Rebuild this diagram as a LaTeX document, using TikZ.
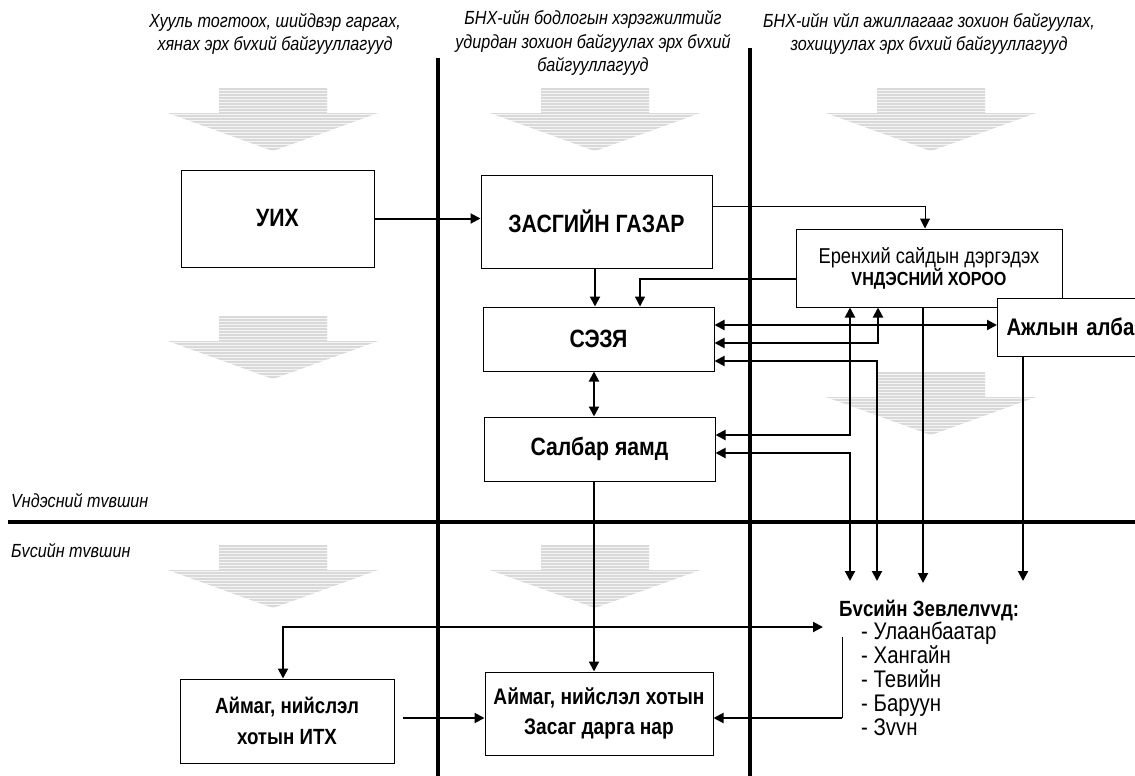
\documentclass[tikz,border=0pt]{standalone}
\usepackage{fontspec}
\setmainfont{Liberation Sans}[FakeStretch=0.85]
\usetikzlibrary{arrows.meta,calc}
\newcommand\stripearrow[2]{%
  \begin{scope}
    \clip (#1-54,#2) -- (#1+54,#2) -- (#1+54,#2+25) -- (#1+105,#2+25) -- (#1,#2+63) -- (#1-105,#2+25) -- (#1-54,#2+25) -- cycle;
    \fill[gray!8] (#1-110,#2-2) rectangle (#1+110,#2+66);
    \foreach \k in {0,...,21} \draw[gray!30, line width=1.2pt] (#1-110,#2+\k*3+1) -- (#1+110,#2+\k*3+1);
  \end{scope}}
\begin{document}
\begin{tikzpicture}[x=1pt,y=-1pt,
  >={Triangle[length=10pt,width=10pt]},
  box/.style={draw,line width=1pt,fill=white,inner sep=0pt,align=center},
  btxt/.style={font=\fontsize{25}{29}\selectfont\bfseries},
  hdr/.style={font=\fontsize{19}{23.5}\selectfont\itshape,align=center,inner sep=0pt},
  lvl/.style={font=\fontsize{19}{22}\selectfont\itshape,anchor=west,inner sep=0pt},
  conn/.style={line width=2pt,->},
  biconn/.style={line width=2pt,<->},
  thinconn/.style={line width=1pt,->},
  divider/.style={line width=4pt}]
\useasboundingbox (0,0) rectangle (1135,776);
\clip (0,0) rectangle (1135,776);
\fill[white] (0,0) rectangle (1135,776);

% striped background arrows
\stripearrow{273}{88}
\stripearrow{595}{88}
\stripearrow{931}{88}
\stripearrow{273}{316}
\stripearrow{931}{372}
\stripearrow{273}{545}
\stripearrow{595}{545}

% dividers
\draw[divider] (438,58) -- (438,790);
\draw[divider] (750,48) -- (750,790);
\draw[divider] (8,522) -- (1150,522);

% headers
\node[hdr] (hL) at (275,34) {Хууль тогтоох, шийдвэр гаргах,\\хянах эрх бvхий байгууллагууд};
\node[hdr] (hM) at (593,43) {БНХ-ийн бодлогын хэрэгжилтийг\\удирдан зохион байгуулах эрх бvхий\\байгууллагууд};
\node[hdr] (hR) at (929,34) {БНХ-ийн vйл ажиллагааг зохион байгуулах,\\зохицуулах эрх бvхий байгууллагууд};

% level labels
\node[lvl] (lvN) at (11,501) {Vндэсний тvвшин};
\node[lvl] (lvB) at (11,551) {Бvсийн тvвшин};

% boxes
\node[box,btxt,minimum width=193pt,minimum height=97pt] (uih) at (277.5,218.5) {УИХ};
\node[box,btxt,minimum width=231pt,minimum height=93pt] (zg) at (596.5,221.5) {ЗАСГИЙН ГАЗАР};
\node[box,btxt,minimum width=231pt,minimum height=64pt] (sezya) at (598.5,339) {СЭЗЯ};
\node[box,btxt,minimum width=231pt,minimum height=64pt] (salbar) at (599.5,449) {Салбар яамд};
\node[box,minimum width=266pt,minimum height=78pt,font=\fontsize{21.5}{22}\selectfont] (eronhii) at (929,268) {Еренхий сайдын дэргэдэх\\\fontsize{19}{22}\selectfont\textbf{VНДЭСНИЙ ХОРОО}};
\node[box,anchor=west,minimum height=58pt,text width=163pt,align=left,inner xsep=9pt,font=\fontsize{24}{28}\selectfont\bfseries] (ajlyn) at (997,327) {Ажлын алба};
\node[box,minimum width=214pt,minimum height=84pt,font=\fontsize{22}{31}\selectfont\bfseries] (ith) at (287,721) {Аймаг, нийслэл\\хотын ИТХ};
\node[box,minimum width=228pt,minimum height=83pt,font=\fontsize{22.5}{30}\selectfont\bfseries] (zasag) at (599,713.5) {Аймаг, нийслэл хотын\\Засаг дарга нар};

% regional councils
\node[anchor=west,inner sep=0pt,font=\fontsize{22}{26}\selectfont\bfseries] (bust) at (839,610) {Бvсийн Зевлелvvд:};
\node[anchor=north west,inner sep=0pt,align=left,font=\fontsize{24}{23.8}\selectfont] (busl) at (861,622) {- Улаанбаатар\\- Хангайн\\- Тевийн\\- Баруун\\- Зvvн};

% free ends
\coordinate (b1) at (850,581);
\coordinate (b2) at (877,581);
\coordinate (b3) at (923,583);
\coordinate (b4) at (1023,581);
\coordinate (b5) at (823,627);
\coordinate (b6) at (842,637);
\coordinate (b7) at (842,718);
\coordinate (i1) at (403,718);

% connectors
\draw[conn] (uih.east) -- (zg.west |- uih.east);
\draw[thinconn] (zg.east |- 0,206) -| (eronhii.north -| 925,0);
\draw[conn] (zg.south -| 595,0) -- (sezya.north -| 595,0);
\draw[line width=1.5pt,->] (eronhii.west |- 0,279) -| (sezya.north -| 640,0);
\draw[biconn] (sezya.south -| 594,0) -- (salbar.north -| 594,0);
\draw[biconn] (sezya.east |- 0,325) -- (ajlyn.west |- 0,325);
\draw[biconn] (sezya.east |- 0,343) -| (eronhii.south -| 878,0);
\draw[biconn] (sezya.east |- 0,361) -| (b2);
\draw[biconn] (eronhii.south -| 850,0) |- (salbar.east |- 0,435);
\draw[biconn] (salbar.east |- 0,453) -| (b1);
\draw[conn] (eronhii.south -| 923,0) -- (b3);
\draw[conn] (ajlyn.south -| 1023,0) -- (b4);
\draw[conn] (salbar.south -| 594,0) -- (zasag.north -| 594,0);
\draw[biconn] (ith.north -| 283,0) |- (b5);
\draw[line width=1pt] (b6) -- (b7);
\draw[conn] (b7) -- (zasag.east |- b7);
\draw[conn] (i1) -- (zasag.west |- i1);
\end{tikzpicture}
\end{document}
